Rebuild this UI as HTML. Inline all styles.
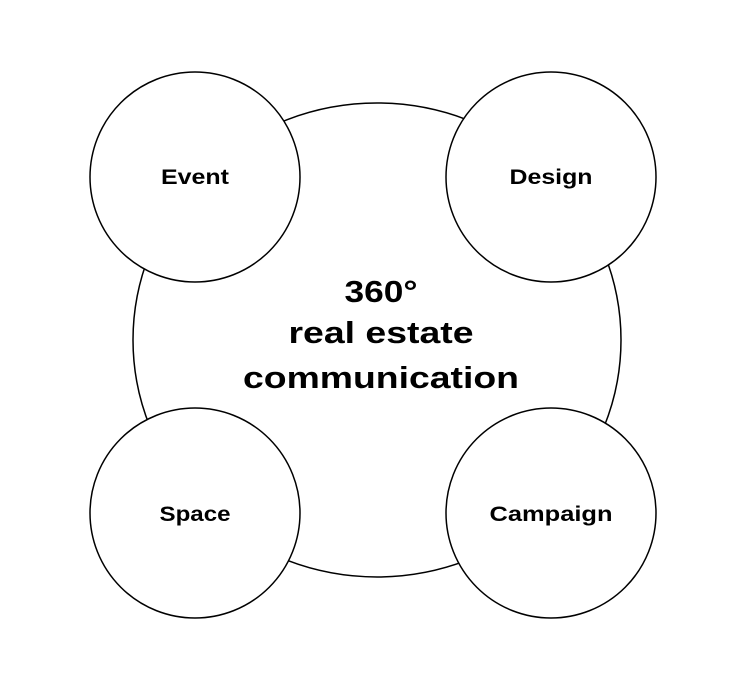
<!DOCTYPE html>
<html><head><meta charset="utf-8"><style>
html,body{margin:0;padding:0;background:#fff;}
svg{display:block;}
text{font-family:"Liberation Sans",sans-serif;font-weight:bold;fill:#000;text-anchor:middle;}
</style></head><body>
<svg width="740" height="696" viewBox="0 0 740 696">
<ellipse cx="377" cy="340" rx="244" ry="237" fill="#fff" stroke="#000" stroke-width="1.5"/>
<g fill="#fff" stroke="#000" stroke-width="1.5">
<circle cx="195" cy="177" r="105"/>
<circle cx="551" cy="177" r="105"/>
<circle cx="195" cy="513" r="105"/>
<circle cx="551" cy="513" r="105"/>
</g>
<g font-size="21" lengthAdjust="spacingAndGlyphs">
<text x="195" y="184" textLength="68" lengthAdjust="spacingAndGlyphs">Event</text>
<text x="551" y="184" textLength="83" lengthAdjust="spacingAndGlyphs">Design</text>
<text x="195" y="521" textLength="71" lengthAdjust="spacingAndGlyphs">Space</text>
<text x="551" y="521" textLength="123" lengthAdjust="spacingAndGlyphs">Campaign</text>
</g>
<g font-size="31">
<text x="381" y="302" textLength="73" lengthAdjust="spacingAndGlyphs">360°</text>
<text x="381" y="343" textLength="185" lengthAdjust="spacingAndGlyphs">real estate</text>
<text x="381" y="388" textLength="276" lengthAdjust="spacingAndGlyphs">communication</text>
</g>
</svg>
</body></html>
